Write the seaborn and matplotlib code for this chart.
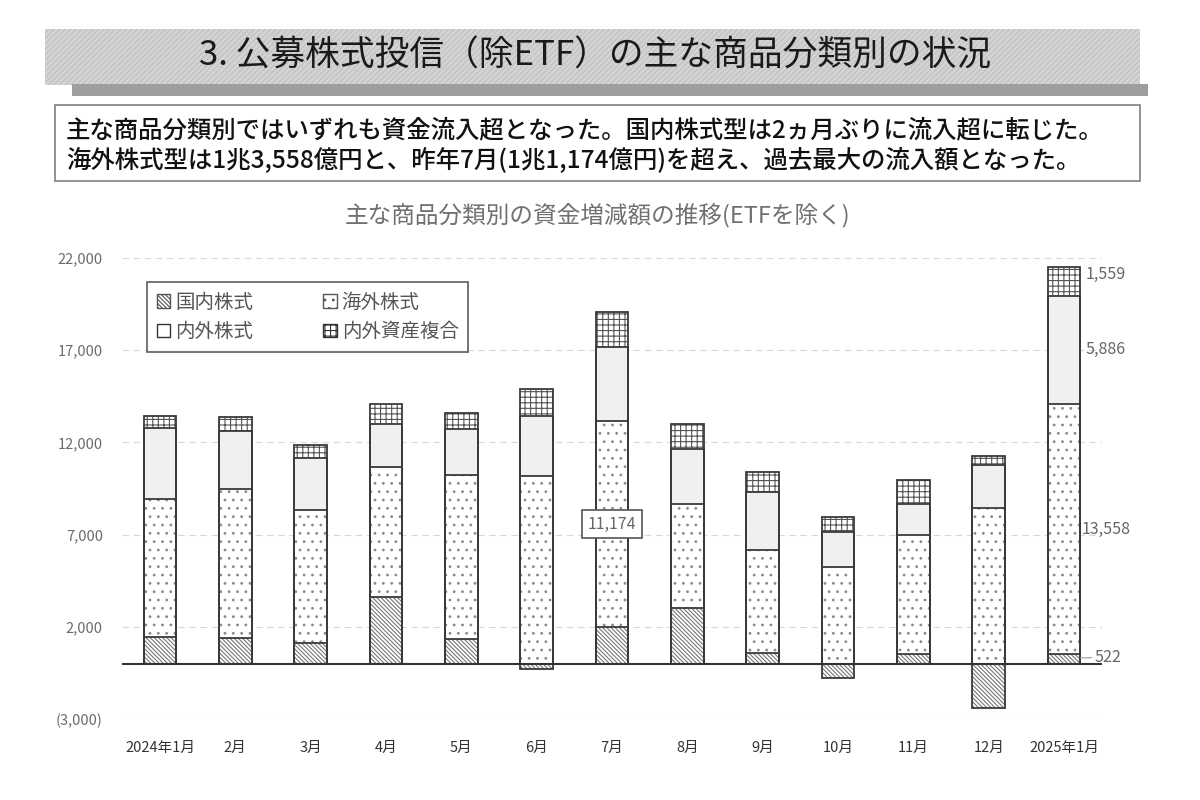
import numpy as np
import pandas as pd
import matplotlib
matplotlib.use("Agg")
import matplotlib.pyplot as plt
from matplotlib.patches import Rectangle, Patch
from matplotlib.ticker import FixedLocator, FuncFormatter
import seaborn as sns

# ---------------- data (億円) ----------------
months = ["2024年1月", "2月", "3月", "4月", "5月", "6月", "7月", "8月",
          "9月", "10月", "11月", "12月", "2025年1月"]
domestic = [1440, 1400, 1100, 3620, 1340, -270, 1970, 3020, 580, -770, 530, -2400, 522]
foreign = [7500, 8050, 7220, 7050, 8880, 10160, 11174, 5660, 5600, 5250, 6450, 8420, 13558]
intl = [3830, 3170, 2860, 2320, 2480, 3250, 4010, 2970, 3130, 1900, 1700, 2350, 5886]
multi = [650, 760, 670, 1080, 870, 1490, 1900, 1360, 1060, 810, 1280, 500, 1559]
series_names = ["国内株式", "海外株式", "内外株式", "内外資産複合"]
y_ticks = [-3000, 2000, 7000, 12000, 17000, 22000]

banner_title = "3. 公募株式投信（除ETF）の主な商品分類別の状況"
summary_lines = [
    "主な商品分類別ではいずれも資金流入超となった。国内株式型は2ヵ月ぶりに流入超に転じた。",
    "海外株式型は1兆3,558億円と、昨年7月(1兆1,174億円)を超え、過去最大の流入額となった。",
]
chart_title = "主な商品分類別の資金増減額の推移(ETFを除く)"

# ---------------- style ----------------
sns.set_theme(style="white")
plt.rcParams["font.family"] = ["Noto Sans CJK JP", "DejaVu Sans"]
plt.rcParams["hatch.linewidth"] = 0.8

fig = plt.figure(figsize=(12, 8), dpi=100)
fig.patch.set_facecolor("white")

# header banner
fig.patches.append(Rectangle((45 / 1200, 1 - 85 / 800), 1095 / 1200, 56 / 800,
                             transform=fig.transFigure, facecolor="#d3d3d3",
                             edgecolor="#c0c0c0", hatch="//////", lw=0, zorder=0))
fig.patches.append(Rectangle((72 / 1200, 1 - 96 / 800), 1076 / 1200, 12 / 800,
                             transform=fig.transFigure, facecolor="#9e9e9e",
                             lw=0, zorder=0))
fig.text(595 / 1200, 1 - 56 / 800, banner_title, ha="center", va="center",
         fontsize=25, color="#1a1a1a")

# summary box
fig.patches.append(Rectangle((55 / 1200, 1 - 181 / 800), 1085 / 1200, 76 / 800,
                             transform=fig.transFigure, facecolor="white",
                             edgecolor="#8a8a8a", lw=1.3, zorder=0))
fig.text(66 / 1200, 1 - 130 / 800, summary_lines[0], ha="left", va="center",
         fontsize=17.6, color="#111111", weight="medium")
fig.text(66 / 1200, 1 - 161 / 800, summary_lines[1], ha="left", va="center",
         fontsize=17.6, color="#111111", weight="medium")

# chart title
fig.text(597 / 1200, 1 - 215 / 800, chart_title, ha="center", va="center",
         fontsize=17, color="#707070")

# ---------------- chart ----------------
ax = fig.add_axes([122.3 / 1200, 81 / 800, 979.4 / 1200, 461 / 800])

dom = np.array(domestic, dtype=float)
base = np.maximum(dom, 0)
cum_foreign = base + np.array(foreign)
cum_intl = cum_foreign + np.array(intl)
cum_multi = cum_intl + np.array(multi)

for t in y_ticks:
    ax.axhline(t, color="#d3d9e0", lw=0.8, ls=(0, (6, 4)), zorder=0)

layers = [
    (cum_multi, "white", "+++", "#555555"),
    (cum_intl, "#f0f0f0", None, "#f0f0f0"),
    (cum_foreign, "white", "..", "#8a8a8a"),
    (dom, "white", "\\" * 8, "#777777"),
]
W = 0.43
for heights, fc, hatch, hc in layers:
    kw = dict(x=months, y=heights, order=months, width=W, errorbar=None, ax=ax)
    sns.barplot(color=fc, saturation=1, hatch=hatch, edgecolor=hc, linewidth=0,
                zorder=2, **kw)
    sns.barplot(color="white", facecolor="none", edgecolor="#3a3a3a",
                linewidth=1.3, zorder=3, **kw)

ax.axhline(0, color="#333333", lw=1.5, zorder=5)

ax.set_ylim(-3000, 22000)
ax.set_xlim(-0.5, len(months) - 0.5)
ax.yaxis.set_major_locator(FixedLocator(y_ticks))
ax.yaxis.set_major_formatter(FuncFormatter(
    lambda v, p: f"({abs(int(v)):,})" if v < 0 else f"{int(v):,}"))
ax.tick_params(axis="y", length=0, pad=14, labelsize=10.5, labelcolor="#6b6b6b")
ax.tick_params(axis="x", length=0, pad=16, labelsize=10.5, labelcolor="#333333")
ax.set_xlabel("")
ax.set_ylabel("")
for s in ax.spines.values():
    s.set_visible(False)
ax.grid(False)

# annotations on the last bar
i = len(months) - 1
txt_kw = dict(fontsize=11.5, color="#666666", va="center", ha="left", zorder=6)
ax.text(i + 0.28, cum_intl[i] + multi[i] / 2 + 350, f"{multi[i]:,}", **txt_kw)
ax.text(i + 0.28, cum_foreign[i] + intl[i] / 2, f"{intl[i]:,}", **txt_kw)
ax.text(i + 0.24, base[i] + foreign[i] / 2, f"{foreign[i]:,}", **txt_kw)
ax.annotate(f"{domestic[i]:,}", xy=(i + W / 2, domestic[i] * 0.6),
            xytext=(i + 0.41, domestic[i] * 0.6 + 30),
            arrowprops=dict(arrowstyle="-", color="#999999", lw=0.8,
                            shrinkA=0, shrinkB=0),
            **txt_kw)

# July callout
j = 6
ax.text(j, base[j] + foreign[j] / 2, f"{foreign[j]:,}", ha="center", va="center",
        fontsize=11.5, color="#666666", zorder=7,
        bbox=dict(boxstyle="square,pad=0.35", fc="white", ec="#555555", lw=1.2))

# legend
handles = [
    Patch(facecolor="white", edgecolor="#555555", hatch="\\" * 8, label=series_names[0]),
    Patch(facecolor="white", edgecolor="#333333", label=series_names[2]),
    Patch(facecolor="white", edgecolor="#555555", hatch="..", label=series_names[1]),
    Patch(facecolor="white", edgecolor="#333333", hatch="+++", label=series_names[3]),
]
leg = ax.legend(handles=handles, ncol=2, loc="upper left",
                bbox_to_anchor=(0.0252, 0.948), borderaxespad=0,
                fontsize=14, frameon=True, fancybox=False,
                handlelength=0.7, handleheight=0.7, handletextpad=0.25,
                labelspacing=0.45, columnspacing=3.6, borderpad=0.5)
leg.get_frame().set_edgecolor("#333333")
leg.get_frame().set_linewidth(1.2)
for t in leg.get_texts():
    t.set_color("#555555")
leg.set_zorder(8)

fig.savefig("out.png", dpi=100, facecolor="white")
